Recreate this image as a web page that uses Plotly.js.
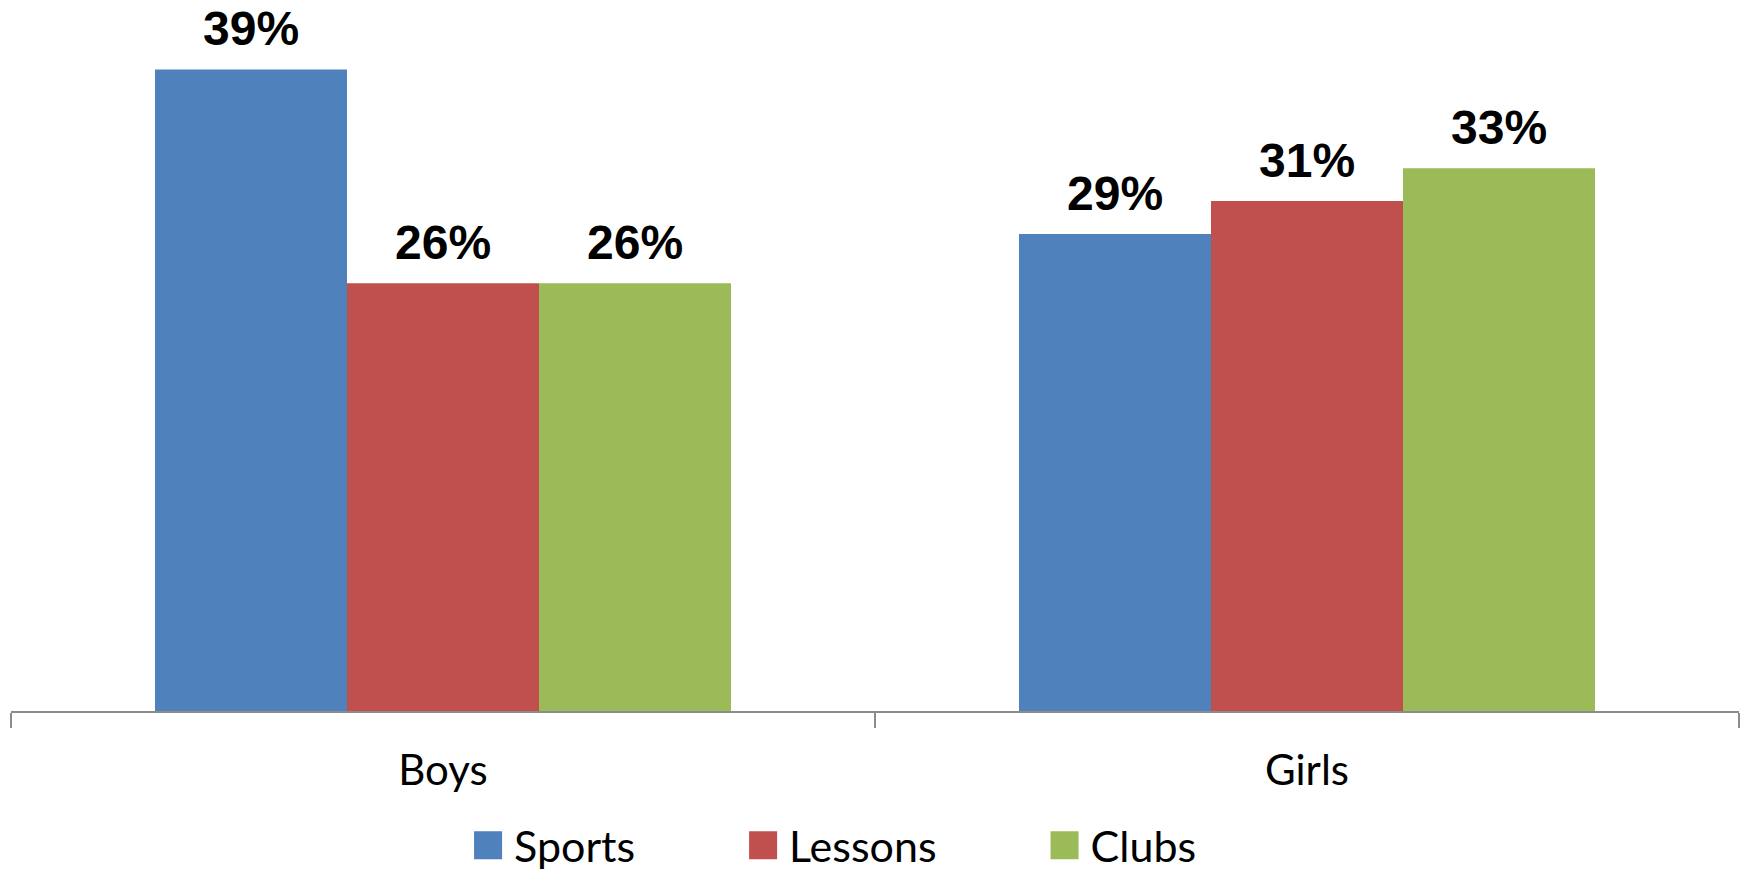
<!DOCTYPE html>
<html><head><meta charset="utf-8">
<script src="https://cdn.plot.ly/plotly-3.0.1.min.js"></script>
<style>html,body{margin:0;padding:0;background:#fff;} #chart{width:1744px;height:875px;}</style>
</head><body><div id="chart"></div>
<script>
const categories = ['Boys', 'Girls'];
const seriesNames = ['Sports', 'Lessons', 'Clubs'];
const sports = [39, 29];
const lessons = [26, 31];
const clubs = [26, 33];
const colors = ['#4F81BD', '#C0504D', '#9BBB59'];

const values = [sports, lessons, clubs];
const W = 139;
const BARGAP = 0.3333;
const traces = values.map((v, i) => ({
  type: 'bar', x: categories, y: v, name: seriesNames[i],
  marker: {color: colors[i], line: {width: 0}},
  hoverinfo: 'none'
}));
// value labels placed above each grouped bar, using the axis' own category/value coordinates
const barW = (1 - BARGAP) / values.length;
const annotations = [];
values.forEach((v, i) => {
  v.forEach((val, c) => {
    annotations.push({
      xref: 'x', yref: 'y', x: c + (i - (values.length - 1) / 2) * barW, y: val,
      text: val + '%', showarrow: false, xanchor: 'center', yanchor: 'bottom', yshift: 12,
      font: {family: 'Liberation Sans, Arial, sans-serif', size: 48, color: '#000', weight: 'bold'}
    });
  });
});
const layout = {
  width: 1744, height: 875,
  margin: {l: 11, r: 5, t: 53, b: 164},
  barmode: 'group', bargap: BARGAP, bargroupgap: 0,
  paper_bgcolor: '#fff', plot_bgcolor: '#fff',
  showlegend: true,
  annotations: annotations,
  legend: {orientation: 'h', x: 0.2049, y: 0.0735, xanchor: 'left', yanchor: 'top', yref: 'container',
    font: {family: 'Lato, sans-serif', size: 43, color: '#000'}, itemwidth: W, traceorder: 'normal'},
  xaxis: {type: 'category', showline: true, linecolor: '#8C8C8C', linewidth: 1.5,
    ticks: 'outside', tickson: 'boundaries', ticklen: 15, tickwidth: 1.5, tickcolor: '#8C8C8C', ticklabelstandoff: 22,
    tickfont: {family: 'Lato, sans-serif', size: 42, color: '#000'}, showgrid: false, zeroline: false, fixedrange: true},
  yaxis: {range: [0, 40], visible: false, showgrid: false, zeroline: false, fixedrange: true}
};
Plotly.newPlot('chart', traces, layout, {displayModeBar: false, staticPlot: true}).then(() => {
  const L = (W - 70) / 2, R = (W - 14) / 2;
  document.querySelectorAll('.legend .legendpoints path').forEach(p => {
    p.setAttribute('d', `M${L},-14H${R}V14H${L}Z`);
    p.style.strokeWidth = '0';
  });
});
</script>
</body></html>
